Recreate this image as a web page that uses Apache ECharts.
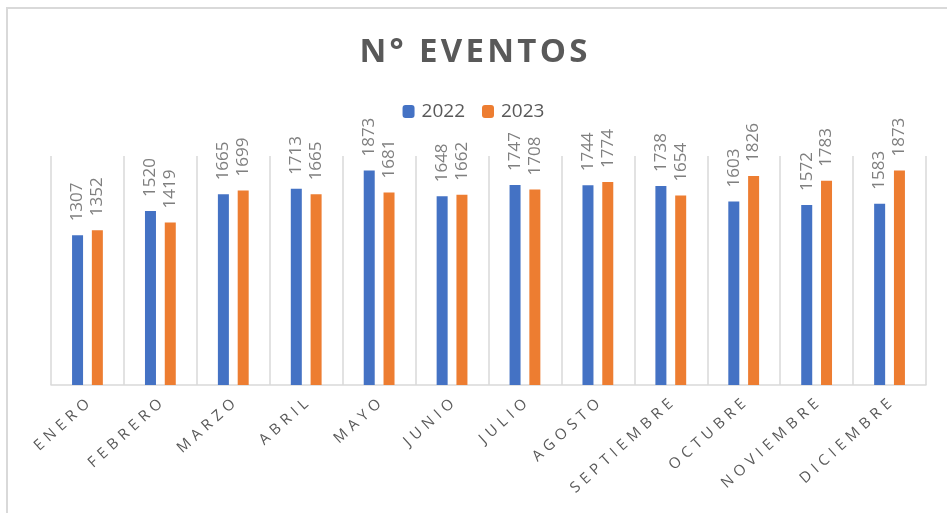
<!DOCTYPE html>
<html>
<head>
<meta charset="utf-8">
<script src="https://cdn.jsdelivr.net/npm/echarts@6/dist/echarts.min.js"></script>
<style>
  html, body { margin: 0; padding: 0; background: #fff; }
  #main { width: 947px; height: 513px; }
</style>
</head>
<body>
<div id="main"></div>
<script>
// datos
const meses = ['ENERO', 'FEBRERO', 'MARZO', 'ABRIL', 'MAYO', 'JUNIO', 'JULIO', 'AGOSTO', 'SEPTIEMBRE', 'OCTUBRE', 'NOVIEMBRE', 'DICIEMBRE']
const eventos2022 = [1307, 1520, 1665, 1713, 1873, 1648, 1747, 1744, 1738, 1603, 1572, 1583]
const eventos2023 = [1352, 1419, 1699, 1665, 1681, 1662, 1708, 1774, 1654, 1826, 1783, 1873]

// espaciado entre letras (ECharts no tiene letterSpacing)
const spaced = (s, sep) => s.split('').join(sep || '\u2009')

const chart = echarts.init(document.getElementById('main'))

const valueLabel = {
  show: true,
  position: 'top',
  rotate: 90,
  align: 'left',
  verticalAlign: 'middle',
  distance: 14,
  color: '#7f7f7f',
  fontSize: 17,
  fontFamily: 'Open Sans'
}

const option = {
  animation: false,
  title: {
    text: spaced('N° EVENTOS', '\u200A'),
    left: 'center',
    top: 31,
    textStyle: { fontFamily: 'Open Sans', fontSize: 33, fontWeight: 'bold', color: '#595959' }
  },
  legend: {
    top: 97,
    left: 'center',
    itemWidth: 12,
    itemHeight: 13,
    itemGap: 17,
    textStyle: { fontFamily: 'Open Sans', fontSize: 19, color: '#595959', padding: [0, 0, 0, 2] },
    data: ['2022', '2023']
  },
  grid: { left: 51, right: 21, top: 156, bottom: 128 },
  xAxis: {
    type: 'category',
    data: meses,
    axisLine: { lineStyle: { color: '#d9d9d9', width: 1.5 } },
    axisTick: { show: false },
    splitLine: { show: true, interval: 0, lineStyle: { color: '#d9d9d9', width: 1.5 } },
    axisLabel: {
      interval: 0,
      rotate: 42,
      margin: 17,
      color: '#595959',
      fontFamily: 'Open Sans',
      fontSize: 15,
      formatter: (v) => spaced(v, '\u2009\u2009')
    }
  },
  yAxis: {
    type: 'value',
    min: 0,
    max: 2000,
    show: false,
    splitLine: { show: false }
  },
  series: [
    {
      name: '2022',
      type: 'bar',
      data: eventos2022,
      barWidth: 11,
      barGap: '80%',
      itemStyle: { color: '#4472c4' },
      label: valueLabel
    },
    {
      name: '2023',
      type: 'bar',
      data: eventos2023,
      barWidth: 11,
      itemStyle: { color: '#ed7d31' },
      label: valueLabel
    }
  ],
  graphic: [
    {
      type: 'rect',
      shape: { x: 7, y: 8, width: 960, height: 530 },
      style: { fill: 'none', stroke: '#d9d9d9', lineWidth: 2 },
      silent: true
    }
  ]
}

chart.setOption(option)
</script>
</body>
</html>
